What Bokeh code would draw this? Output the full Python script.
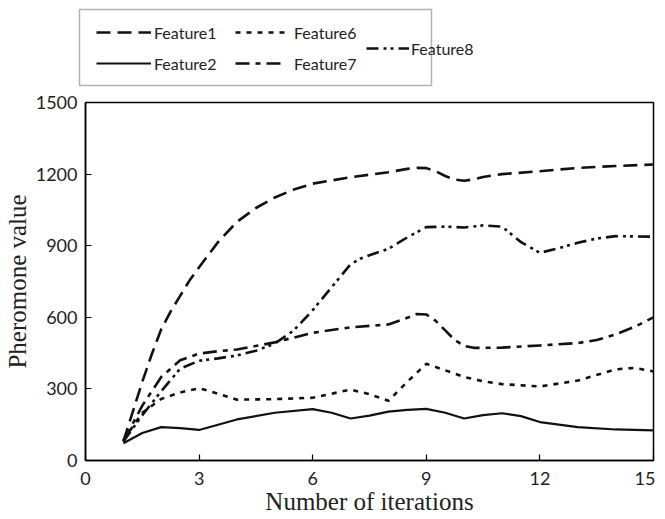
from bokeh.plotting import figure
from bokeh.layouts import column
from bokeh.models import Legend, LegendItem, BoxAnnotation, FixedTicker, Range1d
from bokeh.embed import file_html
from bokeh.resources import INLINE

# ---- data ----
x_ticks = [0, 3, 6, 9, 12, 15]
y_ticks = [0, 300, 600, 900, 1200, 1500]

x_f1 = [1, 1.25, 1.5, 1.75, 2, 2.25, 2.5, 2.75, 3, 3.5, 4, 4.5, 5, 5.5, 6, 7, 8, 8.5, 8.75, 9, 9.25, 9.5, 9.75, 10, 10.25, 10.5, 11, 12, 13, 14, 15]
f1 = [80, 205, 330, 445, 550, 625, 690, 755, 810, 915, 1000, 1058, 1102, 1135, 1160, 1187, 1208, 1222, 1226, 1225, 1212, 1192, 1177, 1172, 1178, 1188, 1200, 1212, 1226, 1234, 1240]

x_f2 = [1, 1.5, 2, 2.5, 3, 3.5, 4, 5, 6, 6.5, 7, 7.5, 8, 8.5, 9, 9.5, 10, 10.5, 11, 11.5, 12, 13, 14, 15]
f2 = [72, 115, 140, 136, 128, 150, 172, 200, 215, 200, 176, 188, 205, 212, 216, 200, 176, 190, 198, 186, 161, 140, 130, 126]

x_f6 = [1, 1.5, 2, 2.5, 3, 3.5, 4, 5, 6, 6.5, 7, 7.5, 8, 8.5, 9, 9.5, 10, 10.5, 11, 12, 13, 14, 14.5, 15]
f6 = [85, 200, 258, 285, 303, 280, 255, 257, 263, 280, 297, 278, 250, 330, 405, 378, 350, 332, 320, 310, 335, 382, 388, 373]

x_f7 = [1, 1.5, 2, 2.5, 3, 3.5, 4, 5, 6, 7, 8, 8.5, 8.75, 9, 9.25, 9.5, 9.75, 10, 10.25, 10.5, 11, 12, 13, 13.5, 14, 14.5, 15]
f7 = [80, 230, 350, 420, 448, 458, 465, 495, 535, 558, 570, 598, 614, 612, 585, 545, 505, 480, 472, 472, 473, 482, 492, 505, 528, 560, 600]

x_f8 = [1, 1.5, 2, 2.5, 3, 3.5, 4, 4.5, 5, 5.5, 6, 6.5, 7, 7.25, 7.5, 8, 8.5, 9, 9.5, 10, 10.5, 11, 11.5, 12, 12.5, 13, 13.5, 14, 15]
f8 = [80, 190, 290, 385, 418, 428, 440, 460, 490, 545, 630, 726, 822, 845, 860, 887, 935, 978, 980, 976, 985, 980, 915, 870, 890, 912, 930, 940, 938]

labels = ["Feature1", "Feature2", "Feature6", "Feature7", "Feature8"]

INK = "#111111"
TXT = "#222222"
styles = {
    "Feature1": dict(line_width=2.6, line_dash="14 7"),
    "Feature2": dict(line_width=2.2, line_dash="solid"),
    "Feature6": dict(line_width=2.6, line_dash="5 6"),
    "Feature7": dict(line_width=2.6, line_dash="14 6 5 6"),
    "Feature8": dict(line_width=2.6, line_dash="12 5 3 4 3 5"),
}
series = {
    "Feature1": (x_f1, f1),
    "Feature2": (x_f2, f2),
    "Feature6": (x_f6, f6),
    "Feature7": (x_f7, f7),
    "Feature8": (x_f8, f8),
}

# ---------------- main chart ----------------
p = figure(frame_width=568, frame_height=358,
           min_border_left=79, min_border_right=2, min_border_top=10, min_border_bottom=56,
           x_range=Range1d(0, 15), y_range=Range1d(0, 1500),
           output_backend="svg", toolbar_location=None)
p.frame_align = False

p.xgrid.visible = False
p.ygrid.visible = False
p.outline_line_color = "black"
p.outline_line_width = 1.5

for ax, ticks in ((p.xaxis, x_ticks), (p.yaxis, y_ticks)):
    ax.ticker = FixedTicker(ticks=ticks)
    ax.major_tick_in = 6
    ax.major_tick_out = 0
    ax.minor_tick_in = 0
    ax.minor_tick_out = 0
    ax.axis_line_width = 1.5
    ax.axis_line_color = "black"
    ax.major_tick_line_color = "black"
    ax.major_tick_line_width = 1.2
    ax.major_label_text_font = "Lato"
    ax.major_label_text_font_size = "18px"
    ax.major_label_text_color = TXT
    ax.axis_label_text_font = "Liberation Serif"
    ax.axis_label_text_font_size = "25px"
    ax.axis_label_text_font_style = "normal"
    ax.axis_label_text_color = TXT

p.xaxis.major_label_standoff = 11
p.yaxis.major_label_standoff = 8
p.xaxis.axis_label = "Number of iterations"
p.xaxis.axis_label_standoff = 0
p.yaxis.axis_label = "Pheromone value"
p.yaxis.axis_label_standoff = 2

for name in labels:
    xs, ys = series[name]
    p.line(xs, ys, line_color=INK, line_join="round", **styles[name])

# ---------------- legend strip above ----------------
lf = figure(width=649, height=92, min_border=0,
            x_range=Range1d(0, 649), y_range=Range1d(92, 0),
            x_axis_type=None, y_axis_type=None,
            output_backend="svg", toolbar_location=None)
lf.frame_align = False
lf.outline_line_color = None
lf.xgrid.visible = False
lf.ygrid.visible = False

nan = float("nan")
proxies = {name: lf.line([nan], [nan], line_color=INK, **styles[name]) for name in labels}


def make_legend(names, loc, gw, standoff):
    lg = Legend(items=[LegendItem(label=n, renderers=[proxies[n]]) for n in names],
                location=loc, orientation="vertical",
                glyph_width=gw, glyph_height=20, label_height=20,
                label_standoff=standoff, spacing=11, padding=0, margin=0,
                border_line_color=None, background_fill_color=None,
                label_text_font="Lato", label_text_font_size="16px",
                label_text_color=TXT)
    lf.add_layout(lg)


make_legend(["Feature1", "Feature2"], (96, 19), 55, 3)
make_legend(["Feature6", "Feature7"], (235, 19), 50, 9)
make_legend(["Feature8"], (366, 34), 43, 2)

lf.add_layout(BoxAnnotation(left=79, right=431, top=9, bottom=85,
                            fill_color=None, line_color="black", line_width=1.5))

layout = column(lf, p, spacing=0)
open("out.html", "w").write(file_html(layout, INLINE))
